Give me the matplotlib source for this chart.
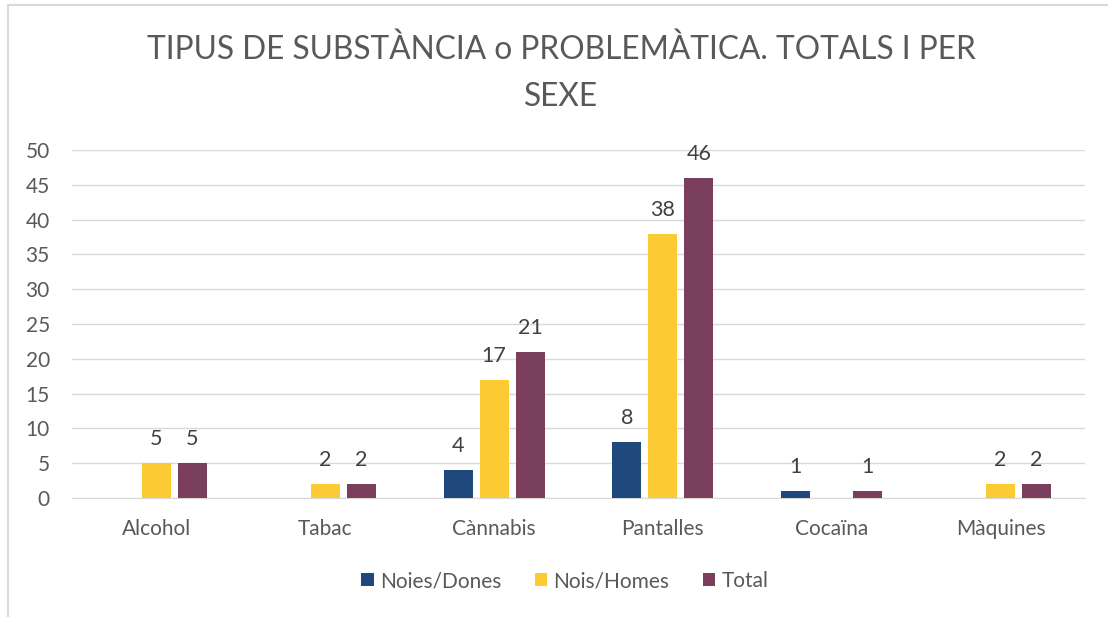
import numpy as np
import matplotlib.pyplot as plt
from matplotlib.patches import Rectangle

categories = ["Alcohol", "Tabac", "Cànnabis", "Pantalles", "Cocaïna", "Màquines"]
series_names = ["Noies/Dones", "Nois/Homes", "Total"]
noies = [0, 0, 4, 8, 1, 0]
nois = [5, 2, 17, 38, 0, 2]
total = [5, 2, 21, 46, 1, 2]
colors = ["#1F497D", "#FCCA32", "#7B3F5E"]

plt.rcParams['font.family'] = ['Lato', 'DejaVu Sans']

fig = plt.figure(figsize=(11.08, 6.17), dpi=100)
W, H = 1108, 617
ax = fig.add_axes([72 / W, 1 - 498 / H, (1085 - 72) / W, (498 - 150) / H])

x = np.arange(len(categories))
bw = 0.172
step = 0.213
for i, (vals, name, c) in enumerate(zip([noies, nois, total], series_names, colors)):
    pos = x + (i - 1) * step
    bars = ax.bar(pos, vals, width=bw, color=c, label=name, zorder=3)
    for b, v in zip(bars, vals):
        if v:
            ax.text(b.get_x() + b.get_width() / 2, v + 2.0, str(v), ha='center', va='bottom',
                    fontsize=15.5, color='#404040')

ax.set_xlim(-0.5, len(categories) - 0.5)
ax.set_ylim(0, 50)
ax.set_yticks(range(0, 51, 5))
ax.yaxis.grid(True, color='#D9D9D9', linewidth=1)
ax.set_axisbelow(True)
for s in ['top', 'right', 'left']:
    ax.spines[s].set_visible(False)
ax.spines['bottom'].set_color('#D9D9D9')
ax.tick_params(axis='both', length=0, labelsize=15, labelcolor='#595959')
ax.tick_params(axis='y', pad=16)
ax.tick_params(axis='x', pad=15)
ax.set_xticks(x)
ax.set_xticklabels(categories)

fig.text(561 / W, 1 - 50 / H, "TIPUS DE SUBSTÀNCIA o PROBLEMÀTICA. TOTALS I PER", ha='center', va='center',
         fontsize=22.8, color='#595959')
fig.text(561 / W, 1 - 97 / H, "SEXE", ha='center', va='center',
         fontsize=22.8, color='#595959')

fig.legend(loc='center', bbox_to_anchor=(565 / W, 1 - 581 / H), ncol=3, frameon=False,
           fontsize=15, labelcolor='#595959', handlelength=0.6, handleheight=0.6,
           handletextpad=0.3, columnspacing=1.6)

# chart frame (left and top edges visible)
fig.add_artist(Rectangle((8 / W, -0.05), 1.2, 1 - 5 / H + 0.05, transform=fig.transFigure,
                         fill=False, edgecolor='#D9D9D9', linewidth=1.5))

fig.savefig("out.png", dpi=100)
